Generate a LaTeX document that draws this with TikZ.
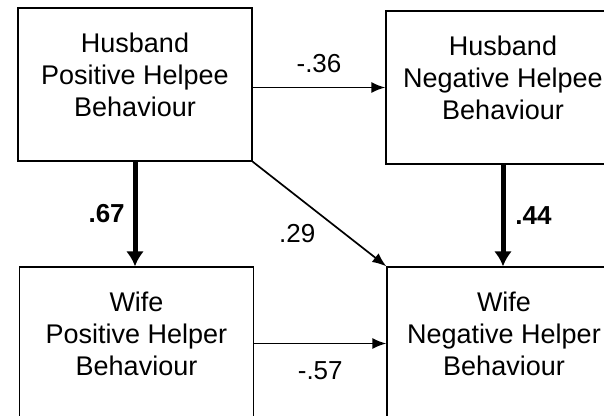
\documentclass[tikz,border=0pt]{standalone}
\usepackage{fontspec}
\setmainfont{Liberation Sans}
\usetikzlibrary{arrows.meta}
\begin{document}
\begin{tikzpicture}[x=1pt,y=-1pt]
	\tikzset{factor/.style = {shape=rectangle,draw,line width=1.4pt,minimum width=234pt,minimum height=153pt,inner sep=0pt,text depth=87pt,font=\fontsize{27}{32}\selectfont}}
	\tikzset{edge/.style = {-{Latex[length=14pt,width=11pt]},line width=1.7pt}}
	\tikzset{strongedge/.style = {-{Latex[length=15pt,width=18pt]},line width=5pt}}
	\tikzset{coef/.style = {font=\fontsize{26}{30}\selectfont}}
	\tikzset{boldcoef/.style = {font=\fontsize{26}{30}\selectfont\bfseries}}
	\useasboundingbox (0,0) rectangle (604,415);
	\node[factor] (hpos) at (135,84.5) {\begin{tabular}[t]{@{}c@{}}Husband\\Positive Helpee\\Behaviour\end{tabular}};
	\node[factor] (hneg) at (503,87.5) {\begin{tabular}[t]{@{}c@{}}Husband\\Negative Helpee\\Behaviour\end{tabular}};
	\node[factor] (wpos) at (136.5,343.5) {\begin{tabular}[t]{@{}c@{}}Wife\\Positive Helper\\Behaviour\end{tabular}};
	\node[factor] (wneg) at (504,343.5) {\begin{tabular}[t]{@{}c@{}}Wife\\Negative Helper\\Behaviour\end{tabular}};
	\draw[edge] (hpos.east |- hneg.west) -- node[coef,above=11pt] {-.36} (hneg.west);
	\draw[strongedge] (hpos.south) -- node[boldcoef,left=4.5pt] {.67} (hpos.south |- wpos.north);
	\draw[edge] (hpos.south east) -- node[coef,anchor=north east,yshift=-6pt] {.29} (wneg.north west);
	\draw[strongedge] (hneg.south) -- node[boldcoef,right=6.5pt] {.44} (hneg.south |- wneg.north);
	\draw[edge] (wpos.east) -- node[coef,below=13.5pt] {-.57} (wpos.east -| wneg.west);
\end{tikzpicture}
\end{document}
